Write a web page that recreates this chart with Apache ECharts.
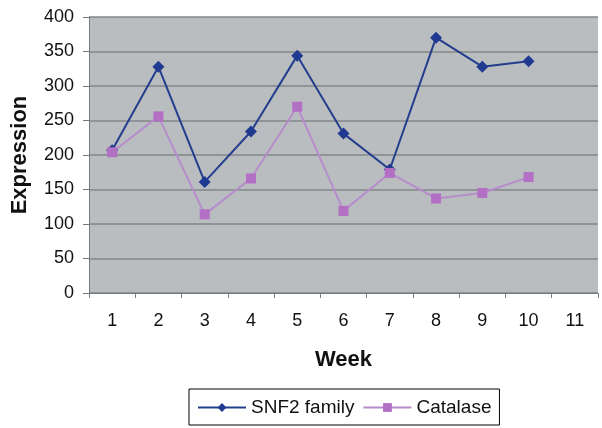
<!DOCTYPE html>
<html><head><meta charset="utf-8">
<script src="https://cdn.jsdelivr.net/npm/echarts@6/dist/echarts.min.js"></script>
<style>html,body{margin:0;padding:0;background:#fff}#c{width:602px;height:428px}</style>
</head><body><div id="c"></div>
<script>
var weeks = ['1','2','3','4','5','6','7','8','9','10','11'];
var snf2 = [207, 328, 161, 234, 344, 231, 179, 370, 328, 336, null];
var catalase = [204, 256, 114, 166, 270, 119, 174, 137, 145, 168, null];
var yTicks = [0, 50, 100, 150, 200, 250, 300, 350, 400];

var chart = echarts.init(document.getElementById('c'), null, {renderer:'canvas'});
var font = 'Liberation Sans, Arial, sans-serif';
chart.setOption({
  animation: false,
  backgroundColor: '#fff',
  grid: {left: 89, right: 4, top: 17, bottom: 135, show: true, backgroundColor: '#b9bdc0', borderWidth: 0},
  legend: {
    left: 189, top: 389, width: 330, padding: [9, 8, 8, 8],
    borderColor: '#000', borderWidth: 1, itemGap: 8,
    itemWidth: 48, itemHeight: 11,
    textStyle: {fontFamily: font, fontSize: 19, color: '#111'},
    data: ['SNF2 family', 'Catalase']
  },
  xAxis: {
    type: 'category', data: weeks, boundaryGap: true,
    name: 'Week', nameLocation: 'middle', nameGap: 56,
    nameTextStyle: {fontFamily: font, fontSize: 22, fontWeight: 'bold', color: '#111'},
    axisLine: {lineStyle: {color: '#7a7a7a', width: 1}},
    axisTick: {show: true, alignWithLabel: false, length: 5, lineStyle: {color: '#7a7a7a'}},
    axisLabel: {fontFamily: font, fontSize: 18, color: '#111', margin: 19}
  },
  yAxis: {
    type: 'value', min: 0, max: 400, interval: 50,
    name: 'Expression', nameLocation: 'middle', nameGap: 58, nameRotate: 90,
    nameTextStyle: {fontFamily: font, fontSize: 22, fontWeight: 'bold', color: '#111'},
    axisLine: {show: true, lineStyle: {color: '#7a7a7a', width: 1}},
    axisTick: {show: true, length: 6, lineStyle: {color: '#7a7a7a'}},
    axisLabel: {fontFamily: font, fontSize: 18, color: '#111', margin: 15,
      formatter: function(v){ return yTicks.indexOf(v) >= 0 ? String(v) : ''; }},
    splitLine: {lineStyle: {color: '#85878a', width: 1.5}}
  },
  series: [
    {name: 'SNF2 family', type: 'line', data: snf2, symbol: 'diamond', symbolSize: 12,
     lineStyle: {color: '#243e8e', width: 2}, itemStyle: {color: '#1f3a90'}},
    {name: 'Catalase', type: 'line', data: catalase, symbol: 'rect', symbolSize: 10,
     lineStyle: {color: '#b68ccb', width: 2}, itemStyle: {color: '#b26fc4'}}
  ]
});
</script></body></html>
